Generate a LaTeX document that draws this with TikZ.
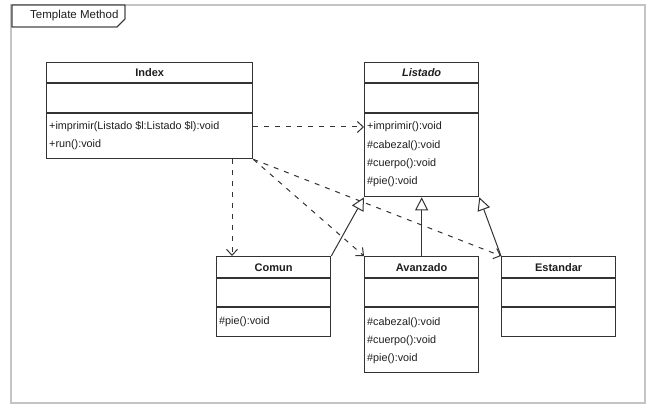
\documentclass[tikz,border=0pt]{standalone}
\usepackage{fontspec}
\setmainfont{Liberation Sans}
\usepackage{tikz}
\usetikzlibrary{positioning,arrows.meta,calc}
\definecolor{umlline}{HTML}{333333}
\definecolor{umltext}{HTML}{1E1E1E}
\definecolor{frmgray}{HTML}{C4C4C4}
\tikzset{
  frm/.style={draw=frmgray,line width=2.4pt},
  tabln/.style={draw=umlline,line width=0.9pt,fill=white},
  cls/.style={draw=umlline,line width=1.3pt,fill=white,inner sep=0pt,
    minimum width=114pt,anchor=north west},
  sep/.style={draw=umlline,line width=1.3pt},
  ttl/.style={font=\fontsize{11}{13}\selectfont\bfseries,text=umltext,inner sep=0pt},
  op/.style={font=\fontsize{10.8}{13}\selectfont,text=umltext,inner sep=0pt,anchor=west},
  dep/.style={draw=umlline,line width=1pt,dash pattern=on 5pt off 6pt,
    -{Straight Barb[length=6pt,width=11pt,line width=1pt]}},
  gen/.style={draw=umlline,line width=1pt,
    -{Triangle[open,length=13pt,width=13pt,fill=white,line width=1pt]}},
}

\begin{document}
\begin{tikzpicture}[x=1pt,y=-1pt]
  \useasboundingbox (0,0) rectangle (650,406);
  % frame and tab
  \draw[frm] (11,5) rectangle (645,403);
  \draw[tabln] (12,5) -- (125,5) -- (125,19) -- (117,27) -- (12,27) -- cycle;
  \node[op,font=\fontsize{11.5}{13}\selectfont] (frame-t) at (30,16) {Template Method};
  \draw[tabln,fill=none] (12,5) -- (125,5) -- (125,19) -- (117,27) -- (12,27) -- cycle;

  % class Index
  \node[cls,minimum width=206pt,minimum height=96pt] (index) at (46,62) {};
  \draw[sep] ($(index.north west)+(0,21)$) -- ($(index.north east)+(0,21)$);
  \draw[sep] ($(index.north west)+(0,51)$) -- ($(index.north east)+(0,51)$);
  \node[ttl] (index-t) at ($(index.north)+(0,11)$) {Index};
  \node[op] (index-o1) at ($(index.north west)+(3,65)$) {+imprimir(Listado \$l:Listado \$l):void};
  \node[op] (index-o2) at ($(index.north west)+(3,83)$) {+run():void};

  % abstract class Listado
  \node[cls,minimum height=134pt] (listado) at (364,62) {};
  \draw[sep] ($(listado.north west)+(0,21)$) -- ($(listado.north east)+(0,21)$);
  \draw[sep] ($(listado.north west)+(0,51)$) -- ($(listado.north east)+(0,51)$);
  \node[ttl,font=\fontsize{11}{13}\selectfont\bfseries\itshape] (listado-t)
    at ($(listado.north)+(0,11)$) {Listado};
  \node[op] (listado-o1) at ($(listado.north west)+(3,65)$) {+imprimir():void};
  \node[op] (listado-o2) at ($(listado.north west)+(3,84)$) {\#cabezal():void};
  \node[op] (listado-o3) at ($(listado.north west)+(3,102)$) {\#cuerpo():void};
  \node[op] (listado-o4) at ($(listado.north west)+(3,120)$) {\#pie():void};

  % subclasses
  \node[cls,minimum height=80pt] (comun) at (216,256) {};
  \draw[sep] ($(comun.north west)+(0,22)$) -- ($(comun.north east)+(0,22)$);
  \draw[sep] ($(comun.north west)+(0,51)$) -- ($(comun.north east)+(0,51)$);
  \node[ttl] (comun-t) at ($(comun.north)+(0,12)$) {Comun};
  \node[op] (comun-o1) at ($(comun.north west)+(3,66)$) {\#pie():void};

  \node[cls,minimum height=116pt] (avanzado) at (364,256) {};
  \draw[sep] ($(avanzado.north west)+(0,22)$) -- ($(avanzado.north east)+(0,22)$);
  \draw[sep] ($(avanzado.north west)+(0,51)$) -- ($(avanzado.north east)+(0,51)$);
  \node[ttl] (avanzado-t) at ($(avanzado.north)+(0,12)$) {Avanzado};
  \node[op] (avanzado-o1) at ($(avanzado.north west)+(3,67)$) {\#cabezal():void};
  \node[op] (avanzado-o2) at ($(avanzado.north west)+(3,85)$) {\#cuerpo():void};
  \node[op] (avanzado-o3) at ($(avanzado.north west)+(3,103)$) {\#pie():void};

  \node[cls,minimum height=80pt] (estandar) at (501,256) {};
  \draw[sep] ($(estandar.north west)+(0,22)$) -- ($(estandar.north east)+(0,22)$);
  \draw[sep] ($(estandar.north west)+(0,51)$) -- ($(estandar.north east)+(0,51)$);
  \node[ttl] (estandar-t) at ($(estandar.north)+(0,12)$) {Estandar};

  % dependencies
  \coordinate (comun-in) at ($(comun.north west)+(16,0)$);
  \draw[dep] (index.east |- listado-o1) -- (listado.west |- listado-o1);
  \draw[dep] (index.south -| comun-in) -- (comun-in);
  \draw[dep] (index.south east) -- (avanzado.north west);
  \draw[dep] (index.south east) -- (estandar.north west);

  % generalizations
  \draw[gen] (comun.north east) -- (listado.south west);
  \draw[gen] (avanzado.north) -- (listado.south);
  \draw[gen] (estandar.north west) -- (listado.south east);
\end{tikzpicture}
\end{document}
